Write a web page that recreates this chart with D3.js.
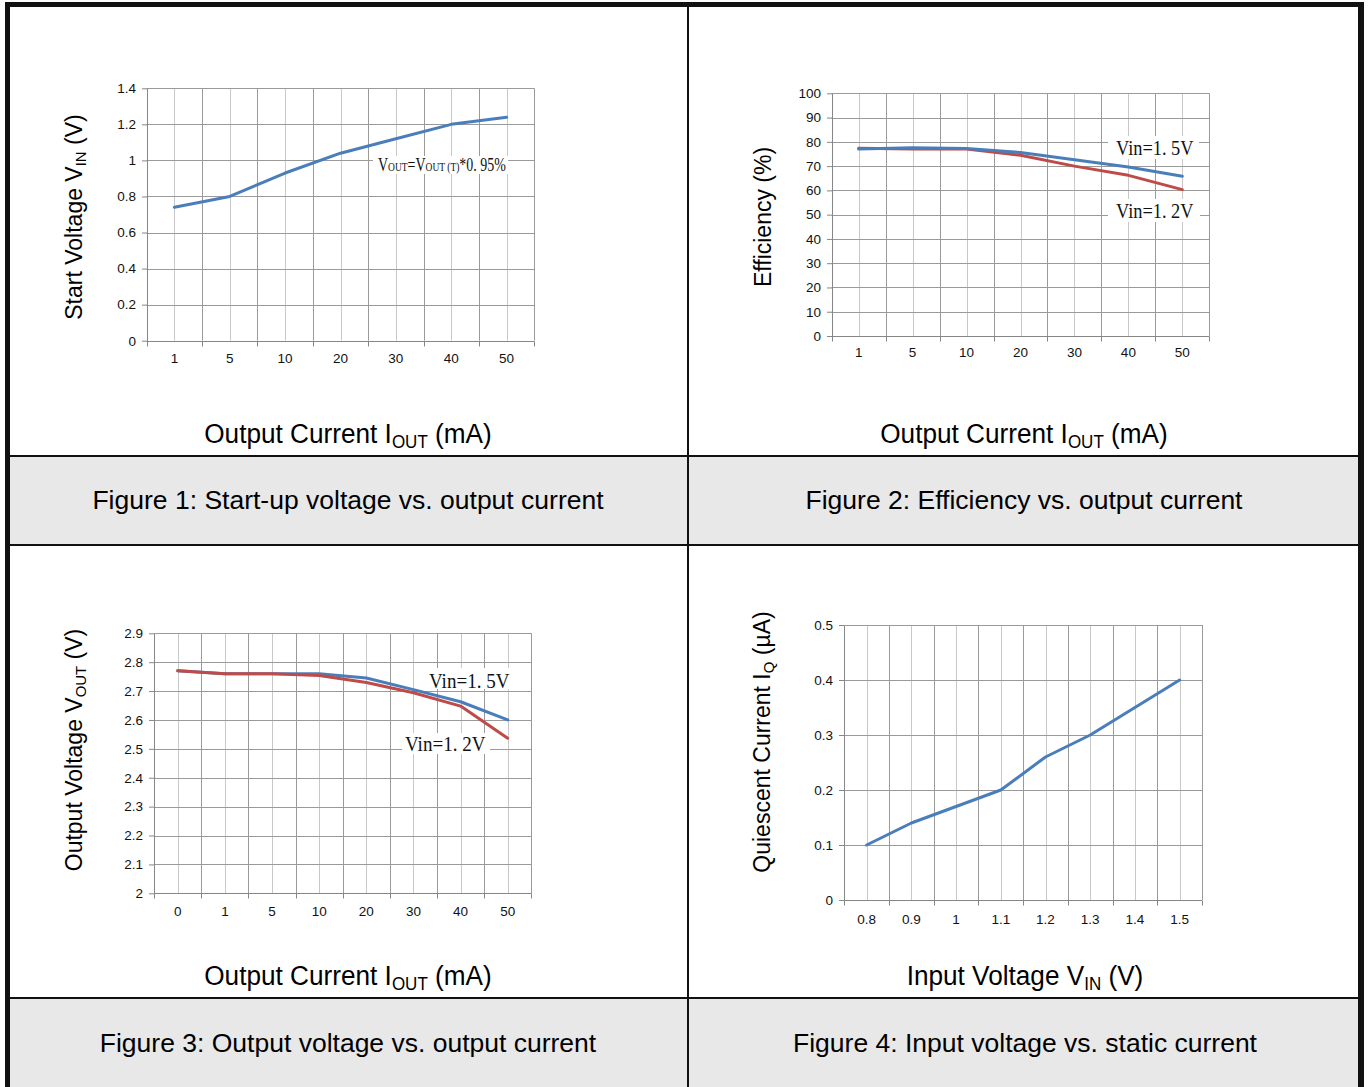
<!DOCTYPE html>
<html>
<head>
<meta charset="utf-8">
<script src="https://cdn.jsdelivr.net/npm/d3@7"></script>
<style>
  body { margin: 0; background: #fff; }
  svg { display: block; }
  text { font-family: "Liberation Sans", Arial, sans-serif; }
</style>
</head>
<body>
<svg id="fig" width="1370" height="1087"></svg>
<script>
// ---- values ----
const iCats1 = ["1", "5", "10", "20", "30", "40", "50"];
const startVin = [0.74, 0.80, 0.93, 1.04, 1.12, 1.20, 1.24];
const startTicks = [0, 0.2, 0.4, 0.6, 0.8, 1, 1.2, 1.4];

const iCats2 = ["1", "5", "10", "20", "30", "40", "50"];
const effVin15 = [77, 77.6, 77.3, 75.6, 72.6, 69.6, 65.8];
const effVin12 = [77.4, 77, 77, 74.5, 70, 66.2, 60.3];
const effTicks = [0, 10, 20, 30, 40, 50, 60, 70, 80, 90, 100];

const iCats3 = ["0", "1", "5", "10", "20", "30", "40", "50"];
const voutVin15 = [2.77, 2.76, 2.76, 2.76, 2.745, 2.705, 2.663, 2.60];
const voutVin12 = [2.77, 2.76, 2.76, 2.754, 2.73, 2.694, 2.648, 2.537];
const voutTicks = [2, 2.1, 2.2, 2.3, 2.4, 2.5, 2.6, 2.7, 2.8, 2.9];

const vinCats = ["0.8", "0.9", "1", "1.1", "1.2", "1.3", "1.4", "1.5"];
const iqValues = [0.10, 0.14, 0.17, 0.20, 0.26, 0.30, 0.35, 0.40];
const iqTicks = [0, 0.1, 0.2, 0.3, 0.4, 0.5];

const BLUE = "#4a7ebb", RED = "#be4b48";
const SERIF = "'Liberation Serif', 'Times New Roman', serif";
const fmt = d3.format("~g");
const px = v => Math.round(v) + 0.5;

const svg = d3.select("#fig");

// ---- table frame ----
svg.append("rect").attr("width", 1370).attr("height", 1087).attr("fill", "#fff");
[[457, 544], [999, 1087]].forEach(([y0, y1]) =>
  svg.append("rect").attr("x", 10).attr("y", y0).attr("width", 1348).attr("height", y1 - y0).attr("fill", "#e8e8e8"));
const frame = [
  [5, 2, 1359, 5],      // top
  [5, 2, 5, 1085],      // left
  [1358, 2, 6, 1085],   // right
  [10, 455, 1348, 2],
  [10, 544, 1348, 2],
  [10, 997, 1348, 2],
  [687, 7, 2, 1080]
];
frame.forEach(([x, y, w, h]) =>
  svg.append("rect").attr("x", x).attr("y", y).attr("width", w).attr("height", h).attr("fill", "#111"));

// text with subscripts / small caps
function rich(sel, parts, size) {
  let shift = 0;
  parts.forEach(([s, kind]) => {
    const t = sel.append("tspan").text(s);
    if (kind === "sub") {
      t.attr("font-size", size * 0.65).attr("dy", size * 0.18 - shift);
      shift = size * 0.18;
    } else if (kind === "small") {
      t.attr("font-size", size * 0.68).attr("dy", -shift);
      shift = 0;
    } else {
      t.attr("font-size", size).attr("dy", -shift);
      shift = 0;
    }
  });
}

// squeeze a text horizontally to a width seen in the reference
function fitText(g, parts, size, x, y, width) {
  const holder = g.append("g");
  const t = holder.append("text").style("font-family", SERIF).attr("fill", "#111");
  rich(t, parts, size);
  const w = t.node().getBBox().width;
  holder.attr("transform", `translate(${x},${y}) scale(${width / w},1)`);
  return holder;
}

function centred(parts, size, cx, y, sx) {
  const t = svg.append("text")
    .attr("text-anchor", "middle")
    .attr("fill", "#000")
    .attr("transform", `translate(${cx},${y}) scale(${sx},1)`);
  rich(t, parts, size);
}

function yLabel(parts, x, cy) {
  const t = svg.append("text")
    .attr("text-anchor", "middle")
    .attr("fill", "#000")
    .attr("transform", `translate(${x},${cy}) rotate(-90)`);
  rich(t, parts, 23);
}

function drawPanel(p) {
  const g = svg.append("g");
  const x = d3.scaleBand().domain(p.cats).range([p.left, p.right]);
  const y = d3.scaleLinear().domain([p.ticks[0], p.ticks[p.ticks.length - 1]]).range([p.bottom, p.top]);
  const mid = c => x(c) + x.bandwidth() / 2;
  const edges = p.cats.slice(1).map(c => x(c)).concat([p.right]);

  // light grid at category centres
  g.selectAll(".vmin").data(p.cats).join("line")
    .attr("x1", c => px(mid(c))).attr("x2", c => px(mid(c)))
    .attr("y1", p.top).attr("y2", p.bottom)
    .attr("stroke", "#c8c8c8");
  // darker grid at category boundaries
  g.selectAll(".vmaj").data(edges).join("line")
    .attr("x1", px).attr("x2", px)
    .attr("y1", p.top).attr("y2", p.bottom)
    .attr("stroke", "#9a9a9a");
  g.selectAll(".hg").data(p.ticks.slice(1)).join("line")
    .attr("x1", p.left).attr("x2", p.right)
    .attr("y1", d => px(y(d))).attr("y2", d => px(y(d)))
    .attr("stroke", "#9a9a9a");

  // y axis
  const ya = g.append("g")
    .attr("transform", `translate(${Math.round(p.left)},0)`)
    .call(d3.axisLeft(y).tickValues(p.ticks).tickSize(5).tickSizeOuter(0).tickPadding(6).tickFormat(fmt));
  ya.select(".domain").attr("stroke", "#868686");
  ya.selectAll(".tick line").attr("stroke", "#868686");
  ya.selectAll("text").attr("font-size", 13.5).attr("fill", "#111");

  // x axis: labels at category centres, tick marks at boundaries
  const xa = g.append("g")
    .attr("transform", `translate(0,${Math.round(p.bottom)})`)
    .call(d3.axisBottom(x).tickSize(0).tickPadding(p.xPad));
  xa.select(".domain").remove();
  xa.selectAll("text").attr("font-size", 13.5).attr("fill", "#111");
  g.selectAll(".xt").data([p.left].concat(edges)).join("line")
    .attr("x1", px).attr("x2", px)
    .attr("y1", px(y(p.ticks[0]))).attr("y2", px(y(p.ticks[0])) + 5)
    .attr("stroke", "#868686");
  g.append("line")
    .attr("x1", p.left).attr("x2", p.right)
    .attr("y1", px(y(p.ticks[0]))).attr("y2", px(y(p.ticks[0])))
    .attr("stroke", "#868686");

  // series
  const line = d3.line().x((d, i) => mid(p.cats[i])).y(d => y(d));
  p.series.forEach(s =>
    g.append("path").attr("d", line(s.values))
      .attr("fill", "none").attr("stroke", s.color)
      .attr("stroke-width", 3).attr("stroke-linejoin", "round").attr("stroke-linecap", "round"));

  // boxed annotations
  (p.notes || []).forEach(n => {
    g.append("rect").attr("x", n.box[0]).attr("y", n.box[1])
      .attr("width", n.box[2] - n.box[0]).attr("height", n.box[3] - n.box[1]).attr("fill", "#fff");
    fitText(g, n.parts, n.size, n.x, n.y, n.width);
  });
}

// ---- Figure 1 ----
drawPanel({
  cats: iCats1, ticks: startTicks, left: 146.7, right: 534.3, top: 88.3, bottom: 340.7, xPad: 12,
  series: [{ values: startVin, color: BLUE }],
  notes: [{
    parts: [["V"], ["OUT", "small"], ["=V"], ["OUT (T)", "small"], ["*0. 95%"]],
    size: 19, x: 378, y: 171, width: 128, box: [373, 156, 508, 174]
  }]
});
yLabel([["Start Voltage V"], ["IN", "sub"], [" (V)"]], 82, 217);
centred([["Output Current I"], ["OUT", "sub"], [" (mA)"]], 28, 348, 443, 0.935);
centred([["Figure 1: Start-up voltage vs. output current"]], 26.5, 348, 509, 1);

// ---- Figure 2 ----
drawPanel({
  cats: iCats2, ticks: effTicks, left: 831.7, right: 1209.3, top: 93.3, bottom: 336, xPad: 11.5,
  series: [{ values: effVin12, color: RED }, { values: effVin15, color: BLUE }],
  notes: [
    { parts: [["Vin=1. 5V"]], size: 20, x: 1116, y: 155, width: 78, box: [1108, 136, 1199, 159] },
    { parts: [["Vin=1. 2V"]], size: 20, x: 1116, y: 218, width: 78, box: [1108, 199, 1200, 222] }
  ]
});
yLabel([["Efficiency (%)"]], 771, 217);
centred([["Output Current I"], ["OUT", "sub"], [" (mA)"]], 28, 1024, 443, 0.935);
centred([["Figure 2: Efficiency vs. output current"]], 26.5, 1024, 509, 1);

// ---- Figure 3 ----
drawPanel({
  cats: iCats3, ticks: voutTicks, left: 154.2, right: 531.3, top: 633.3, bottom: 893.3, xPad: 13,
  series: [{ values: voutVin15, color: BLUE }, { values: voutVin12, color: RED }],
  notes: [
    { parts: [["Vin=1. 5V"]], size: 20, x: 429, y: 688, width: 81, box: [425, 668, 514, 689] },
    { parts: [["Vin=1. 2V"]], size: 20, x: 405, y: 751, width: 81, box: [402, 733, 490, 754] }
  ]
});
yLabel([["Output Voltage V"], ["OUT", "sub"], [" (V)"]], 82, 750);
centred([["Output Current I"], ["OUT", "sub"], [" (mA)"]], 28, 348, 985, 0.935);
centred([["Figure 3: Output voltage vs. output current"]], 26.5, 348, 1052, 1);

// ---- Figure 4 ----
drawPanel({
  cats: vinCats, ticks: iqTicks, left: 844.3, right: 1202, top: 625, bottom: 900, xPad: 14.5,
  series: [{ values: iqValues, color: BLUE }]
});
yLabel([["Quiescent Current I"], ["Q", "sub"], [" (µA)"]], 770, 742);
centred([["Input Voltage V"], ["IN", "sub"], [" (V)"]], 28, 1025, 985, 0.935);
centred([["Figure 4: Input voltage vs. static current"]], 26.5, 1025, 1052, 1);
</script>
</body>
</html>
